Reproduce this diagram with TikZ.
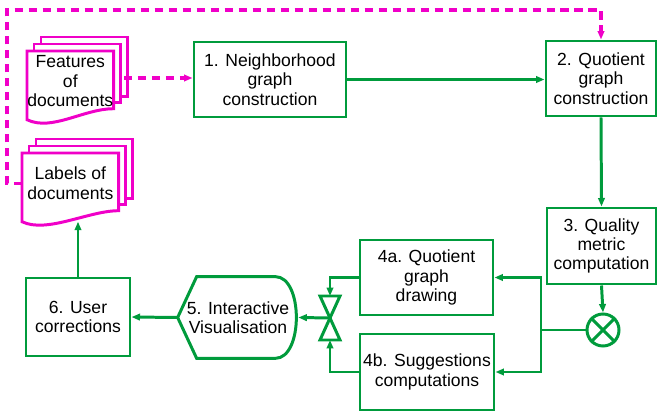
\documentclass[tikz,border=0pt]{standalone}
\usepackage{fontspec}
\setmainfont{Liberation Sans}
\usetikzlibrary{arrows.meta,positioning,backgrounds}

\definecolor{flowgreen}{RGB}{0,155,60}
\definecolor{docpink}{RGB}{240,0,200}
\newdimen\px \px=0.02cm

% stacked pages behind a document node
\newcommand{\docstack}[1]{%
  \draw[docline] ([shift={(14,-14)}]#1.north west) rectangle ([shift={(14,-15)}]#1.south east);
  \draw[docline] ([shift={(7,-7)}]#1.north west) rectangle ([shift={(7,-9)}]#1.south east);
  \draw[docline] (#1.north west) -- (#1.north east) -- ([shift={(0,-3)}]#1.south east)
    .. controls ([shift={(-30,-3)}]#1.south east) and ([shift={(25,20)}]#1.south west) .. ([shift={(0,8)}]#1.south west) -- cycle;
}

\tikzset{
  txt/.style={font=\fontsize{10}{11}\selectfont, align=center, inner sep=0pt},
  stepbox/.style={txt, draw=flowgreen, line width=1.7pt, fill=white},
  docnode/.style={txt, anchor=north west, minimum height=60\px},
  docline/.style={draw=docpink, line width=1.7pt, fill=white},
  flowline/.style={draw=flowgreen, line width=1.7pt},
  flow/.style={flowline, -{Triangle[length=0.17cm,width=0.13cm]}},
  dashflow/.style={draw=docpink, line width=1.9pt, dash pattern=on 0.17cm off 0.11cm, -{Triangle[length=0.17cm,width=0.13cm]}},
}

\begin{document}
\begin{tikzpicture}[x=0.02cm, y=-0.02cm]
  \useasboundingbox (0,0) rectangle (657,412);

  % documents
  \node[docnode, minimum width=83\px] (feat) at (27,51) {Features\\of\\documents};
  \node[docnode, minimum width=96\px] (lab) at (22,153) {Labels of\\documents};
  \begin{scope}[on background layer]
    \fill[white] (0,0) rectangle (657,412);
    \docstack{feat}
    \docstack{lab}
  \end{scope}

  % steps
  \node[stepbox, minimum width=152\px, minimum height=75\px] (n1) at (270,79.5) {1. Neighborhood\\graph\\construction};
  \node[stepbox, minimum width=110\px, minimum height=75\px] (n2) at (601,78.5) {2. Quotient\\graph\\construction};
  \node[stepbox, minimum width=109\px, minimum height=76\px] (n3) at (601.5,246) {3. Quality\\metric\\computation};
  \node[stepbox, minimum width=133\px, minimum height=75\px] (n4a) at (426.5,277.5) {4a. Quotient\\graph\\drawing};
  \node[stepbox, minimum width=134\px, minimum height=76\px] (n4b) at (427,372) {4b. Suggestions\\computations};
  \node[txt, minimum width=120\px, minimum height=81\px] (n5) at (238,317.5) {5. Interactive\\Visualisation};
  \node[stepbox, minimum width=104\px, minimum height=78\px] (n6) at (78,317) {6. User\\corrections};
  \node[circle, flowline, fill=white, minimum size=32\px, inner sep=0pt] (mx) at (603,330) {};

  % display shape of step 5
  \draw[flowline] (n5.west) -- ([xshift=19\px]n5.north west) -- ([xshift=-23\px]n5.north east)
    .. controls ([xshift=5\px]n5.north east) and ([xshift=5\px]n5.south east) .. ([xshift=-23\px]n5.south east)
    -- ([xshift=19\px]n5.south west) -- cycle;

  % cross in circle
  \draw[flowline] (mx.north west) -- (mx.south east);
  \draw[flowline] (mx.north east) -- (mx.south west);

  % valve
  \coordinate (v) at (330,318);
  \coordinate (vt) at (330,296);
  \coordinate (vb) at (330,340);
  \draw[flowline] (v) -- ++(-10,-22) -- ++(20,0) -- cycle;
  \draw[flowline] (v) -- ++(-10,22) -- ++(20,0) -- cycle;

  % connectors
  \coordinate (fo) at (124,78);
  \draw[dashflow] (fo) -- (fo -| n1.west);
  \draw[dashflow] (lab.west) -| (7,10) -| (n2.north);
  \draw[flow] (n1.east) -- (n1.east -| n2.west);
  \draw[flow] (n2.south) -- (n3.north);
  \draw[flow] (n3.south) -- (mx.north);
  \coordinate (sp) at (541,330);
  \draw[flowline] (mx.west) -- (sp);
  \draw[flow] (sp) |- (n4a.east);
  \draw[flow] (sp) |- (n4b.east);
  \draw[flow] (n4a.west) -| (vt);
  \draw[flow] (n4b.west) -| (vb);
  \draw[flow] (v) -- (n5.east);
  \draw[flow] (n5.west) -- (n6.east);
  \draw[flow] (n6.north) -- ([yshift=-8\px]n6.north |- lab.south);
\end{tikzpicture}
\end{document}
